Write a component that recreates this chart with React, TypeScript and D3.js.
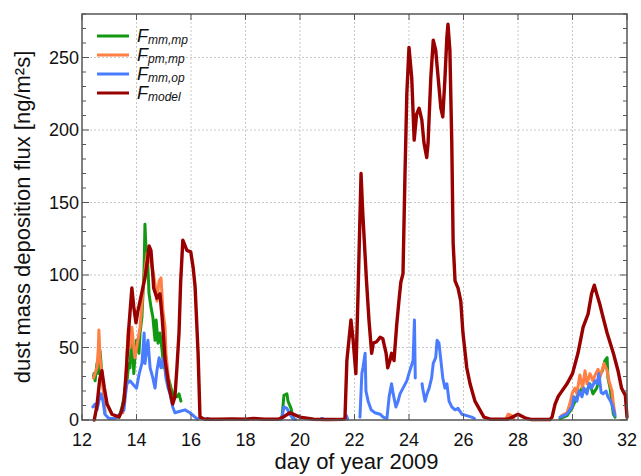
import React from "react";
import * as d3 from "d3";

type P = [number, number] | null;

const xTicks = [12, 14, 16, 18, 20, 22, 24, 26, 28, 30, 32];
const yTicks = [0, 50, 100, 150, 200, 250];
const yMinorTicks = d3.range(0, 281, 10);

const seriesNames = ["mm,mp", "pm,mp", "mm,op", "model"];
const seriesColors = ["#119911", "#ff7f45", "#4a7cff", "#990000"];

const fModel: P[] = [
  [12.45, 0], [12.55, 10], [12.65, 28], [12.73, 34], [12.82, 22], [12.92, 11], [13.1, 4], [13.36, 2], [13.45, 6],
  [13.54, 13], [13.63, 35], [13.72, 64], [13.83, 91], [13.9, 78], [13.98, 67], [14.05, 75], [14.13, 82], [14.31, 98],
  [14.4, 110], [14.46, 120], [14.53, 117], [14.6, 100], [14.63, 91], [14.75, 84], [14.86, 87], [14.94, 71], [15.0, 55],
  [15.05, 41], [15.2, 22], [15.33, 11], [15.41, 16], [15.48, 35], [15.56, 60], [15.62, 95], [15.7, 124], [15.85, 117],
  [15.99, 116], [16.08, 105], [16.15, 92], [16.26, 46], [16.33, 2], [16.5, 0.5], [17, 0.5], [17.5, 0.8], [18, 0.5],
  [18.3, 1], [18.7, 0.5], [19.2, 0.5], [19.38, 2], [19.63, 5], [20.0, 2], [20.5, 0.5], [21, 0.3], [21.6, 0.5],
  [21.65, 1], [21.72, 41], [21.87, 69], [21.95, 55], [22.05, 32], [22.13, 87], [22.24, 170], [22.3, 144], [22.44, 96],
  [22.53, 69], [22.63, 46], [22.69, 53], [22.81, 54], [22.94, 57], [23.04, 56], [23.16, 46], [23.22, 36], [23.3, 41],
  [23.36, 46], [23.45, 41], [23.55, 66], [23.63, 82], [23.7, 95], [23.78, 101], [23.85, 167], [23.92, 225], [24.0, 257],
  [24.1, 236], [24.19, 193], [24.28, 211], [24.37, 215], [24.47, 207], [24.55, 191], [24.65, 181], [24.7, 191],
  [24.8, 236], [24.89, 262], [24.98, 255], [25.07, 236], [25.17, 215], [25.24, 209], [25.32, 236], [25.39, 264],
  [25.43, 273], [25.5, 255], [25.57, 191], [25.62, 122], [25.69, 96], [25.8, 91], [25.9, 82], [25.98, 60], [26.12, 36],
  [26.24, 25], [26.42, 13], [26.6, 7], [26.75, 2], [27, 0.5], [27.6, 0.5], [27.8, 2], [28.0, 4], [28.25, 1.5],
  [28.5, 0.3], [29.17, 0.3], [29.25, 2], [29.36, 11], [29.47, 16], [29.54, 18], [29.8, 25], [30.0, 32], [30.2, 46],
  [30.39, 64], [30.57, 73], [30.7, 87], [30.8, 93], [30.89, 87], [31.0, 80], [31.12, 71], [31.27, 60], [31.5, 46],
  [31.67, 34], [31.8, 22], [31.94, 17], [32.0, 2],
];

const fMmMp: P[] = [
  [12.42, 30], [12.44, 32], [12.48, 27], [12.55, 39], [12.62, 32], [12.66, 48], [12.73, 32], [12.8, 18], [12.84, 5], null,
  [13.36, 2], [13.47, 9], [13.54, 16], [13.58, 22], [13.65, 27], [13.72, 39], [13.76, 36], [13.83, 60], [13.87, 45],
  [13.9, 32], [13.94, 43], [14.0, 55], [14.09, 46], [14.13, 60], [14.2, 71], [14.28, 105], [14.31, 135], [14.35, 117],
  [14.42, 105], [14.46, 87], [14.53, 78], [14.6, 71], [14.68, 55], [14.72, 69], [14.79, 53], [14.86, 60], [14.94, 48],
  [15.0, 36], [15.05, 41], [15.12, 32], [15.2, 27], [15.27, 22], [15.37, 16], [15.49, 16], [15.56, 18], [15.63, 13], null,
  [19.3, 0.5], [19.34, 2], [19.41, 17], [19.52, 18], [19.56, 13], [19.67, 8], [19.74, 2], [19.8, 0.5], null,
  [29.54, 1], [29.8, 3], [29.98, 8], [30.16, 16], [30.35, 22], [30.5, 19], [30.64, 25], [30.75, 18], [30.89, 22],
  [31.0, 31], [31.1, 34], [31.19, 41], [31.27, 43], [31.3, 29], [31.38, 22], [31.45, 11], [31.5, 4], [31.56, 2],
];

const fPmMp: P[] = [
  [12.42, 29], [12.55, 36], [12.6, 50], [12.62, 62], [12.66, 43], [12.73, 32], [12.8, 16], [12.84, 5], null,
  [13.5, 5], [13.58, 18], [13.65, 46], [13.7, 63], [13.76, 50], [13.83, 64], [13.9, 50], [13.94, 43], [14.05, 55],
  [14.13, 64], [14.28, 98], [14.39, 115], [14.5, 110], [14.6, 103], [14.68, 94], [14.75, 82], [14.83, 96], [14.9, 98],
  [14.97, 75], [15.05, 64], [15.08, 46], [15.16, 32], [15.23, 20], [15.3, 12], null,
  [27.55, 0.5], [27.64, 4], [27.77, 3], [27.85, 0.5], null,
  [29.6, 3], [29.8, 5], [29.9, 11], [30.0, 19], [30.09, 22], [30.16, 18], [30.27, 31], [30.37, 22], [30.46, 34],
  [30.53, 25], [30.64, 32], [30.75, 27], [30.83, 31], [30.94, 35], [31.0, 29], [31.08, 34], [31.16, 39], [31.27, 34],
  [31.34, 27], [31.45, 20], [31.5, 11], [31.56, 4],
];

const fMmOp: P[] = [
  [12.4, 9], [12.48, 11], [12.55, 7], [12.62, 13], [12.7, 18], [12.77, 13], [12.84, 4], [12.99, 1], [13.21, 1],
  [13.39, 4], [13.54, 7], [13.6, 18], [13.65, 25], [13.76, 27], [13.9, 24], [14.0, 22], [14.1, 32], [14.2, 39],
  [14.28, 60], [14.31, 39], [14.42, 55], [14.5, 36], [14.6, 29], [14.68, 22], [14.75, 34], [14.83, 43], [14.9, 36],
  [15.0, 43], [15.08, 29], [15.16, 22], [15.23, 18], [15.33, 9], [15.41, 5], [15.6, 6], [15.78, 7], [15.96, 5],
  [16.15, 2], [16.25, 0.5], null,
  [16.58, 1], [16.64, 1], null,
  [19.3, 0.5], [19.34, 2], [19.41, 9], [19.52, 8], [19.63, 4], [19.74, 1], [19.85, 0.3], null,
  [20.78, 1], [20.84, 1], null,
  [21.65, 0.5], [21.7, 3], [21.75, 0.5], null,
  [22.2, 2], [22.27, 32], [22.31, 36], [22.39, 46], [22.42, 20], [22.5, 13], [22.61, 7], [22.75, 5], [22.94, 4],
  [23.05, 2], [23.19, 1], [23.27, 16], [23.36, 25], [23.42, 18], [23.52, 9], [23.6, 13], [23.67, 18], [23.78, 22],
  [23.92, 27], [24.03, 34], [24.15, 41], [24.2, 69], [24.23, 29], null,
  [24.48, 25], [24.5, 22], [24.59, 13], [24.66, 18], [24.74, 22], [24.83, 29], [24.89, 39], [24.98, 43], [25.03, 55],
  [25.1, 53], [25.17, 41], [25.24, 29], [25.32, 22], [25.39, 25], [25.47, 13], [25.57, 9], [25.69, 7], [25.8, 8],
  [25.94, 4], [26.12, 3], [26.3, 2], [26.4, 1], null,
  [29.54, 2], [29.8, 4], [29.98, 9], [30.05, 16], [30.16, 13], [30.24, 20], [30.35, 16], [30.42, 22], [30.53, 18],
  [30.61, 25], [30.7, 22], [30.83, 27], [30.9, 25], [30.97, 32], [31.05, 19], [31.12, 18], [31.23, 20], [31.3, 16],
  [31.4, 13], [31.48, 9], [31.56, 3],
];

const allSeries = [fMmMp, fPmMp, fMmOp, fModel];

const W = 641, H = 476;
const L = 82, R = 627, T = 14, B = 420;

export default function App() {
  const x = d3.scaleLinear().domain([12, 32]).range([L, R]);
  const y = d3.scaleLinear().domain([0, 280]).range([B, T]);
  const line = d3
    .line<P>()
    .defined((d) => d !== null)
    .x((d) => x((d as [number, number])[0]))
    .y((d) => y((d as [number, number])[1]));
  const font = "'Liberation Sans', Arial, sans-serif";
  const axisColor = "#555";
  return (
    <svg width={W} height={H} style={{ position: "absolute", left: 0, top: 0, background: "#fff" }} fontFamily={font}>
      <rect x={0} y={0} width={W} height={H} fill="#fff" />
      {xTicks.slice(1, -1).map((t) => (
        <line key={"gx" + t} x1={x(t)} x2={x(t)} y1={T} y2={B} stroke="#c8c8c8" strokeDasharray="2,2" strokeWidth={1} />
      ))}
      {yTicks.slice(1).map((t) => (
        <line key={"gy" + t} x1={L} x2={R} y1={y(t)} y2={y(t)} stroke="#c8c8c8" strokeDasharray="2,2" strokeWidth={1} />
      ))}
      {allSeries.map((s, i) => (
        <path
          key={"s" + i}
          d={line(s) || ""}
          fill="none"
          stroke={seriesColors[i]}
          strokeWidth={i === 3 ? 3.4 : 3}
          strokeLinejoin="round"
          strokeLinecap="round"
        />
      ))}
      <rect x={L} y={T} width={R - L} height={B - T} fill="none" stroke={axisColor} strokeWidth={1.5} />
      {yMinorTicks.map((t) => {
        const major = t % 50 === 0;
        const len = major ? 7 : 4;
        return (
          <g key={"yt" + t}>
            <line x1={L} x2={L + len} y1={y(t)} y2={y(t)} stroke={axisColor} strokeWidth={1} />
            <line x1={R} x2={R - len} y1={y(t)} y2={y(t)} stroke={axisColor} strokeWidth={1} />
          </g>
        );
      })}
      {xTicks.map((t) => (
        <g key={"xt" + t}>
          <line x1={x(t)} x2={x(t)} y1={B} y2={B - 6} stroke={axisColor} strokeWidth={1} />
          <line x1={x(t)} x2={x(t)} y1={T} y2={T + 6} stroke={axisColor} strokeWidth={1} />
        </g>
      ))}
      {yTicks.map((t) => (
        <text key={"yl" + t} x={L - 3} y={y(t)} dy="0.35em" textAnchor="end" fontSize={18} fill="#111">
          {t}
        </text>
      ))}
      {xTicks.map((t) => (
        <text key={"xl" + t} x={x(t)} y={B + 26} textAnchor="middle" fontSize={18} fill="#111">
          {t}
        </text>
      ))}
      <text x={(L + R) / 2 + 2} y={469} textAnchor="middle" fontSize={22} fill="#111">
        day of year 2009
      </text>
      <text
        transform={`translate(30, ${(T + B) / 2}) rotate(-90)`}
        textAnchor="middle"
        fontSize={22}
        fill="#111"
      >
        dust mass deposition flux [ng/m²s]
      </text>
      {seriesNames.map((n, i) => {
        const ly = 36 + i * 19;
        return (
          <g key={"lg" + i}>
            <line x1={97} x2={129} y1={ly} y2={ly} stroke={seriesColors[i]} strokeWidth={3} />
            <text x={137} y={ly + 6} fontStyle="italic" fill="#111">
              <tspan fontSize={18}>F</tspan>
              <tspan fontSize={12} dy={2}>{n}</tspan>
            </text>
          </g>
        );
      })}
    </svg>
  );
}
